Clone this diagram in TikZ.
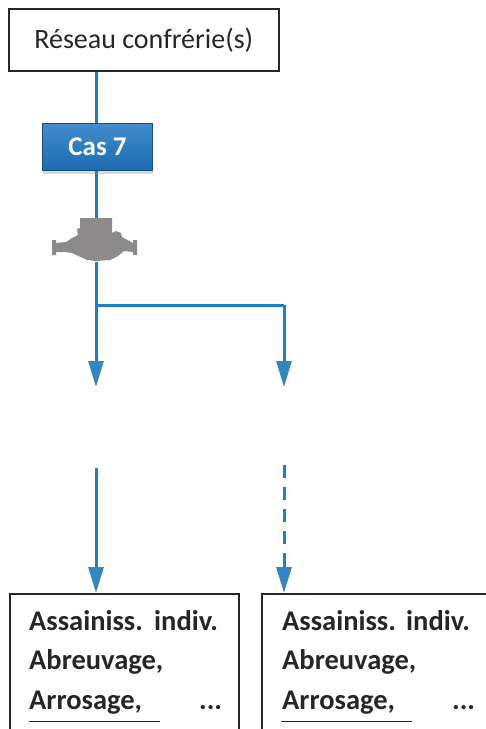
\documentclass[tikz,border=0pt]{standalone}
\usepackage{fontspec}
\setmainfont{Carlito}
\usetikzlibrary{arrows.meta,shadows}
\definecolor{flow}{HTML}{1B7FC9}
\definecolor{headblue}{HTML}{3585BE}
\definecolor{casblue}{HTML}{1F78C4}
\definecolor{gaugegray}{HTML}{8C8A8A}
\definecolor{ink}{HTML}{262626}
\tikzset{
  x=1pt,y=-1pt,
  flowline/.style={draw=flow,line width=3pt},
  flowarrow/.style={flowline,-{Triangle[length=26pt,width=15pt,color=headblue]}},
  flowdash/.style={flowline,dash pattern=on 13pt off 9pt},
  titlebox/.style={draw=ink,line width=1.5pt,fill=white,anchor=north west,minimum width=270pt,minimum height=62pt,inner sep=0pt,font=\fontsize{28}{32}\selectfont,text=black!85},
  usebox/.style={draw=ink,line width=1.5pt,fill=white,anchor=north west,inner sep=0pt},
  cas/.style={draw=casblue!65!black,line width=1pt,top color=casblue!85!white,bottom color=casblue!90!black,anchor=north west,minimum width=110pt,minimum height=47pt,inner sep=0pt,text=white,font=\bfseries\fontsize{27}{30}\selectfont,drop shadow={shadow xshift=0pt,shadow yshift=-3pt,opacity=.3}},
  usetext/.style={anchor=base west,inner sep=0pt,font=\bfseries\fontsize{28.5}{32}\selectfont,text=black!85},
  rule/.style={draw=ink,line width=.8pt},
}
\begin{document}
\begin{tikzpicture}
\useasboundingbox (0,0) rectangle (486,729);
\fill[white] (0,0) rectangle (486,729);
\node[titlebox] (net) at (8,8) {Réseau confrérie(s)};
\coordinate (meterTop) at (96,218);
\coordinate (meterBot) at (96,262);
\coordinate (split) at (96,305);
\coordinate (splitR) at (284,305);
\coordinate (arrowL) at (96,387);
\coordinate (arrowR) at (284,387);
\coordinate (lowL) at (96,468);
\coordinate (lowR) at (284,465);
\coordinate (dashEnd) at (284,566);
\draw[flowline] (net.south -| meterTop) -- (meterTop);
\node[cas] (cas7) at (42,123) {Cas 7};
\draw[flowline] (meterBot) -- (split);
\draw[flowline] (split) -- (splitR);
\draw[flowarrow] (split) -- (arrowL);
\draw[flowarrow] (splitR) -- (arrowR);
% water meter
\fill[gaugegray] (52,240) -- (56,240) -- (56,243) -- (66,242) -- (72,238) -- (78,235) -- (77,229) -- (80,228) -- (80,218) -- (112,218) -- (112,233) -- (116,231) -- (121,233) -- (122,237) -- (133,243) -- (133,240) -- (137,240) -- (137,255) -- (133,255) -- (133,252) -- (124,251) -- (118,256) -- (110,260) -- (96,261) -- (87,260) -- (72,253) -- (66,252) -- (56,252) -- (56,255) -- (52,255) -- cycle;
% bottom boxes
\node[usebox,minimum width=229pt,minimum height=150pt] (boxL) at (9,593) {};
\node[usebox,minimum width=240pt,minimum height=150pt] (boxR) at (261,593) {};
\draw[flowarrow] (lowL) -- (boxL.north -| lowL);
\draw[flowdash] (lowR) -- (dashEnd);
\draw[flowarrow] (dashEnd) -- (boxR.north -| dashEnd);
\node[usetext] (a1) at (29,630) {Assainiss.};
\node[usetext] (a2) at (154,630) {indiv.};
\node[usetext] (a3) at (29,669) {Abreuvage,};
\node[usetext] (a4) at (29,709) {Arrosage,};
\node[usetext] (a5) at (199,709) {...};
\node[usetext] (b1) at (282,630) {Assainiss.};
\node[usetext] (b2) at (406,630) {indiv.};
\node[usetext] (b3) at (282,669) {Abreuvage,};
\node[usetext] (b4) at (282,709) {Arrosage,};
\node[usetext] (b5) at (452,709) {...};
\draw[rule] (29,721) -- (160,721);
\draw[rule] (281,721) -- (412,721);
\end{tikzpicture}
\end{document}
